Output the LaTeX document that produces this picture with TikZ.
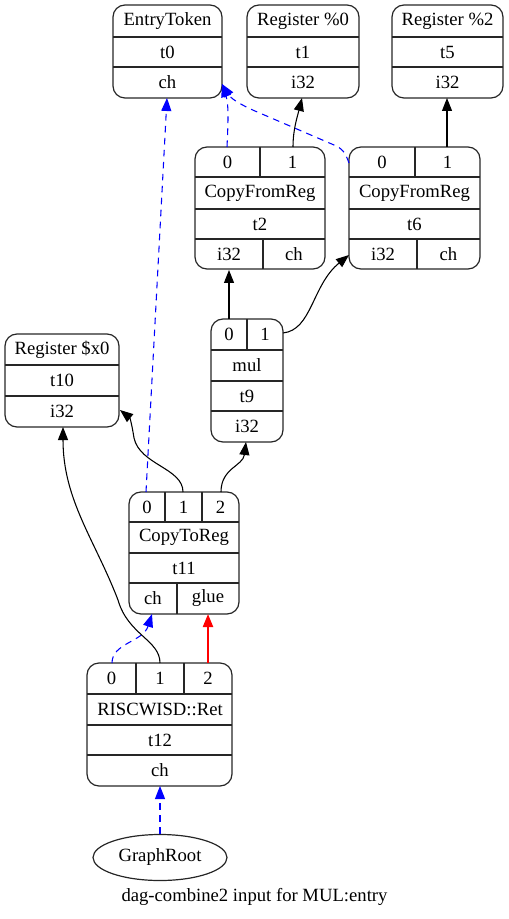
\documentclass[tikz,border=0pt]{standalone}
\usepackage{fontspec}
\setmainfont{Liberation Serif}
\usetikzlibrary{arrows.meta,shapes.geometric}
\begin{document}
\begin{tikzpicture}[x=0.75pt,y=-0.75pt,
  rec/.style={draw=black!85,line width=0.9pt,rounded corners=9pt},
  sep/.style={draw=black!85,line width=0.9pt},
  lbl/.style={inner sep=0pt,font=\fontsize{14}{16}\selectfont},
  arr/.style={-{Triangle[length=9.75pt,width=7.5pt]},line width=0.8pt},
  dataedge/.style={arr,black},
  chainedge/.style={arr,blue,dash pattern=on 5pt off 4pt},
  glueedge/.style={arr,red,line width=1.6pt}]
\useasboundingbox (0,0) rectangle (509,919);

% ---------- EntryToken t0
\draw[rec] (113,5) rectangle (222,98);
\draw[sep] (113,37) -- (222,37) (113,67) -- (222,67);
\node[lbl] (t0name) at (167.5,21) {EntryToken};
\node[lbl] (t0id) at (167.5,52) {t0};
\node[lbl] (t0ch) at (167.5,82.5) {ch};
\coordinate (t0bot) at (167,98);
\coordinate (t0side) at (222,84);

% ---------- Register %0 t1
\draw[rec] (247,5) rectangle (359,98);
\draw[sep] (247,37) -- (359,37) (247,67) -- (359,67);
\node[lbl] (t1name) at (303,21) {Register \%0};
\node[lbl] (t1id) at (303,52) {t1};
\node[lbl] (t1ty) at (303,82.5) {i32};
\coordinate (t1bot) at (302,98);

% ---------- Register %2 t5
\draw[rec] (392,5) rectangle (503,98);
\draw[sep] (392,37) -- (503,37) (392,67) -- (503,67);
\node[lbl] (t5name) at (447.5,21) {Register \%2};
\node[lbl] (t5id) at (447.5,52) {t5};
\node[lbl] (t5ty) at (447.5,82.5) {i32};
\coordinate (t5bot) at (447,98);

% ---------- CopyFromReg t2
\draw[rec] (195,147) rectangle (325,269);
\draw[sep] (195,177) -- (325,177) (195,209) -- (325,209) (195,239) -- (325,239)
  (260,147) -- (260,177) (263,239) -- (263,269);
\node[lbl] (t2p0) at (227.5,162) {0};
\node[lbl] (t2p1) at (292.5,162) {1};
\node[lbl] (t2name) at (260,193) {CopyFromReg};
\node[lbl] (t2id) at (260,224) {t2};
\node[lbl] (t2ty) at (229,254) {i32};
\node[lbl] (t2ch) at (294,254) {ch};
\coordinate (t2p0top) at (227,147);
\coordinate (t2p1top) at (293,147);
\coordinate (t2tybot) at (229,270);

% ---------- CopyFromReg t6
\draw[rec] (349,147) rectangle (480,269);
\draw[sep] (349,177) -- (480,177) (349,209) -- (480,209) (349,239) -- (480,239)
  (415,147) -- (415,177) (417,239) -- (417,269);
\node[lbl] (t6p0) at (382,162) {0};
\node[lbl] (t6p1) at (447.5,162) {1};
\node[lbl] (t6name) at (414.5,193) {CopyFromReg};
\node[lbl] (t6id) at (414.5,224) {t6};
\node[lbl] (t6ty) at (383,254) {i32};
\node[lbl] (t6ch) at (448.5,254) {ch};
\coordinate (t6p0side) at (349,163);
\coordinate (t6p1top) at (447,147);
\coordinate (t6tyside) at (349,255);

% ---------- mul t9
\draw[rec] (211,319) rectangle (283,442);
\draw[sep] (211,350) -- (283,350) (211,381) -- (283,381) (211,411) -- (283,411)
  (247,319) -- (247,350);
\node[lbl] (t9p0) at (229,334.5) {0};
\node[lbl] (t9p1) at (265,334.5) {1};
\node[lbl] (t9name) at (247,365.5) {mul};
\node[lbl] (t9id) at (247,396) {t9};
\node[lbl] (t9ty) at (247,426.5) {i32};
\coordinate (t9p0top) at (229,319);
\coordinate (t9p1side) at (283,333);
\coordinate (t9bot) at (246,442);

% ---------- Register $x0 t10
\draw[rec] (5,334) rectangle (119,427);
\draw[sep] (5,365) -- (119,365) (5,396) -- (119,396);
\node[lbl] (t10name) at (62,349.5) {Register \$x0};
\node[lbl] (t10id) at (62,380.5) {t10};
\node[lbl] (t10ty) at (62,411.5) {i32};
\coordinate (t10bot) at (63,427);
\coordinate (t10side) at (120,410);

% ---------- CopyToReg t11
\draw[rec] (129,492) rectangle (239,614);
\draw[sep] (129,522) -- (239,522) (129,553) -- (239,553) (129,583) -- (239,583)
  (165,492) -- (165,522) (202,492) -- (202,522) (177,583) -- (177,614);
\node[lbl] (t11p0) at (147,507) {0};
\node[lbl] (t11p1) at (183.5,507) {1};
\node[lbl] (t11p2) at (220.5,507) {2};
\node[lbl] (t11name) at (184,537.5) {CopyToReg};
\node[lbl] (t11id) at (184,568) {t11};
\node[lbl] (t11ch) at (153,598.5) {ch};
\node[lbl] (t11glue) at (208,598.5) {glue};
\coordinate (t11p0top) at (146,492);
\coordinate (t11p1top) at (183,492);
\coordinate (t11p2top) at (221,492);
\coordinate (t11chbot) at (152,614);
\coordinate (t11gluebot) at (208,614);

% ---------- RISCWISD::Ret t12
\draw[rec] (87,663) rectangle (232,786);
\draw[sep] (87,694) -- (232,694) (87,725) -- (232,725) (87,755) -- (232,755)
  (136,663) -- (136,694) (184,663) -- (184,694);
\node[lbl] (t12p0) at (111.5,678.5) {0};
\node[lbl] (t12p1) at (160,678.5) {1};
\node[lbl] (t12p2) at (208,678.5) {2};
\node[lbl] (t12name) at (160,709.5) {RISCWISD::Ret};
\node[lbl] (t12id) at (160,740) {t12};
\node[lbl] (t12ch) at (160,770.5) {ch};
\coordinate (t12p0top) at (112,663);
\coordinate (t12p1top) at (160,663);
\coordinate (t12p2top) at (208,663);
\coordinate (t12bot) at (160,786);

% ---------- GraphRoot
\node[draw=black!85,line width=0.9pt,ellipse,minimum width=100.5pt,minimum height=34.5pt,
  inner sep=0pt,font=\fontsize{14}{16}\selectfont] (root) at (160,857.5) {GraphRoot};

% ---------- caption
\node[lbl] (caption) at (254.5,897) {dag-combine2 input for MUL:entry};

% ---------- edges
\draw[chainedge] (t11p0top) -- (t0bot);
\draw[chainedge] (t2p0top) .. controls (228,125) and (229,105) .. (t0side);
\draw[chainedge] (t6p0side) .. controls (345,152) and (342,148) .. (334,145)
  -- (262,114) .. controls (245,107) and (232,100) .. (t0side);
\draw[dataedge] (t2p1top) .. controls (293,130) and (297,118) .. (t1bot);
\draw[dataedge] (t6p1top) -- (t5bot);
\draw[dataedge] (t9p0top) -- (t2tybot);
\draw[dataedge] (t9p1side) .. controls (312,330) and (312,285) .. (t6tyside);
\draw[dataedge] (t11p1top) .. controls (183,468) and (140,465) .. (134,438)
  .. controls (132,425) and (130,418) .. (t10side);
\draw[dataedge] (t11p2top) .. controls (221,468) and (243,466) .. (t9bot);
\draw[chainedge] (t12p0top) .. controls (112,643) and (143,642) .. (t11chbot);
\draw[dataedge] (t12p1top) .. controls (160,640) and (128,635) .. (118,600)
  .. controls (95,540) and (63,500) .. (t10bot);
\draw[glueedge] (t12p2top) -- (t11gluebot);
\draw[chainedge] (root) -- (t12bot);
\end{tikzpicture}
\end{document}
